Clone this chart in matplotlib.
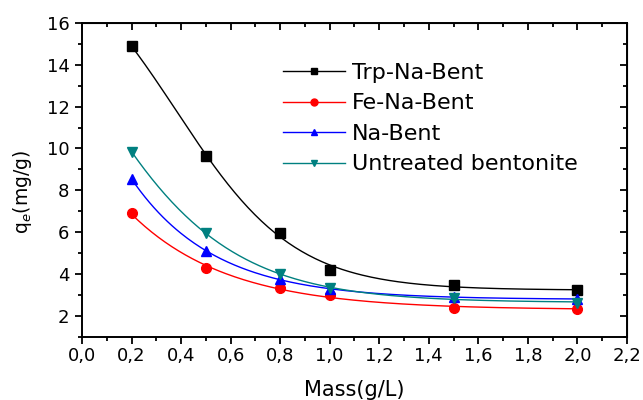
import numpy as np
import matplotlib.pyplot as plt
from matplotlib.ticker import MultipleLocator, FuncFormatter

# adsorbent mass (g/L)
mass = [0.2, 0.5, 0.8, 1.0, 1.5, 2.0]

# qe (mg/g)
trp_na_bent = [14.9, 9.65, 5.98, 4.22, 3.47, 3.25]
fe_na_bent = [6.9, 4.3, 3.32, 3.02, 2.4, 2.33]
na_bent = [8.55, 5.1, 3.78, 3.3, 2.9, 2.8]
untreated = [9.85, 5.95, 4.0, 3.35, 2.88, 2.62]

labels = ["Trp-Na-Bent", "Fe-Na-Bent", "Na-Bent", "Untreated bentonite"]
colors = ["black", "#ff0000", "#0000ff", "#008080"]
markers = ["s", "o", "^", "v"]

plt.rcParams['font.family'] = ['DejaVu Sans']


def fit_curve(x, y):
    """ Boltzmann type decay y = a + b / (1 + exp((x - x0) / dx)),
        grid search on x0, dx and least squares for a, b. """
    x = np.asarray(x)
    y = np.asarray(y)
    best = None
    for x0 in np.linspace(-2.0, 0.6, 131):
        for dx in np.linspace(0.05, 1.5, 146):
            s = 1.0 / (1.0 + np.exp((x - x0) / dx))
            A = np.column_stack([np.ones_like(x), s])
            coef = np.linalg.lstsq(A, y, rcond=None)[0]
            err = np.sum((A @ coef - y) ** 2)
            if best is None or err < best[0]:
                best = (err, x0, dx, coef)
    _, x0, dx, coef = best
    xs = np.linspace(x.min(), x.max(), 200)
    return xs, coef[0] + coef[1] / (1.0 + np.exp((xs - x0) / dx))


fig = plt.figure(figsize=(6.43, 4.0), dpi=100)
ax = fig.add_axes([0.1275, 0.1575, 0.8475, 0.7855])

for data, lab, c, m in zip([trp_na_bent, fe_na_bent, na_bent, untreated], labels, colors, markers):
    xs, ys = fit_curve(mass, data)
    ax.plot(xs, ys, color=c, lw=1.0)
    ax.plot(mass, data, linestyle="none", marker=m, color=c, markersize=7)
    # legend entry: line with marker
    ax.plot([], [], color=c, lw=1.0, marker=m, markersize=5, label=lab)

ax.set_xlim(0, 2.2)
ax.set_ylim(1, 16)
ax.xaxis.set_major_locator(MultipleLocator(0.2))
ax.xaxis.set_minor_locator(MultipleLocator(0.1))
ax.yaxis.set_minor_locator(MultipleLocator(1))
ax.set_yticks([2, 4, 6, 8, 10, 12, 14, 16])
ax.xaxis.set_major_formatter(FuncFormatter(lambda v, p: f"{v:.1f}".replace(".", ",")))

ax.tick_params(which="both", direction="out", labelsize=13, width=1.3)
ax.tick_params(which="major", length=5)
ax.tick_params(which="minor", length=3)
ax.tick_params(axis="y", pad=4)
ax.tick_params(axis="x", pad=2.5)
for sp in ax.spines.values():
    sp.set_linewidth(1.4)

# inward ticks on top and right
sec_x = ax.secondary_xaxis("top")
sec_x.xaxis.set_major_locator(MultipleLocator(0.2))
sec_x.xaxis.set_minor_locator(MultipleLocator(0.1))
sec_x.tick_params(which="both", direction="in", labeltop=False, width=1.3)
sec_x.tick_params(which="major", length=5)
sec_x.tick_params(which="minor", length=3)
sec_y = ax.secondary_yaxis("right")
sec_y.yaxis.set_major_locator(MultipleLocator(2))
sec_y.yaxis.set_minor_locator(MultipleLocator(1))
sec_y.tick_params(which="both", direction="in", labelright=False, width=1.3)
sec_y.tick_params(which="major", length=5)
sec_y.tick_params(which="minor", length=3)

ax.set_xlabel("Mass(g/L)", fontsize=15, va="center")
ax.xaxis.set_label_coords(0.5, -0.168)
ax.set_ylabel("q$_e$(mg/g)", fontsize=13.5, va="center")
ax.yaxis.set_label_coords(-0.11, 0.461)

ax.legend(loc="upper left", bbox_to_anchor=(0.369, 0.872), frameon=False, fontsize=16,
          handlelength=2.8, handletextpad=0.3, labelspacing=0.47, borderaxespad=0,
          borderpad=0)

fig.savefig("out.png", dpi=100)
